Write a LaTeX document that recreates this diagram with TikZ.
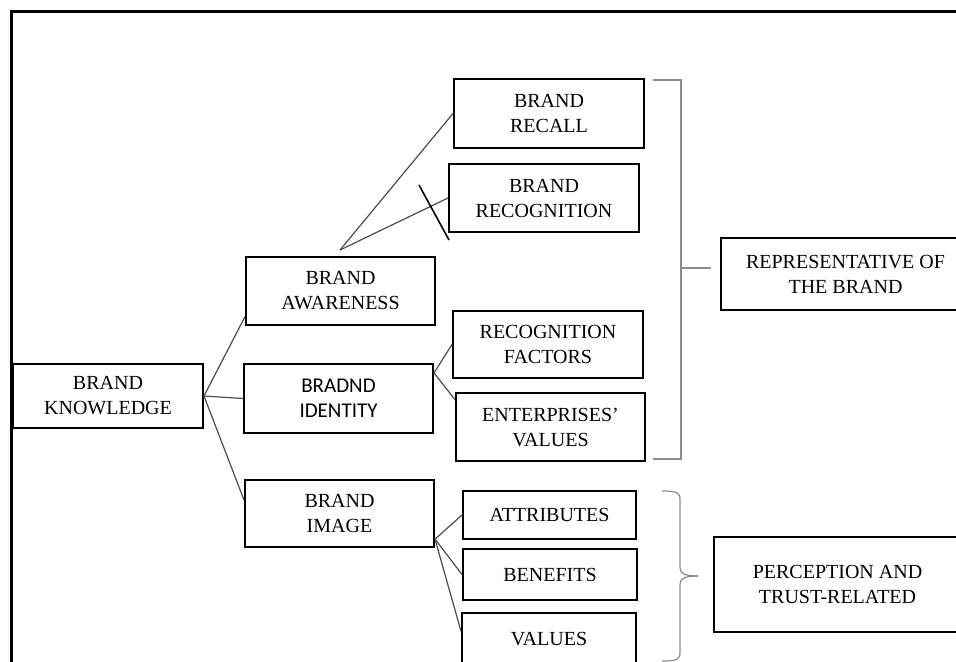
\documentclass[tikz,border=0pt]{standalone}
\usepackage{fontspec}
\setmainfont{Liberation Serif}
\newfontfamily\calibri{Carlito}

\begin{document}
\begin{tikzpicture}[x=0.5pt,y=-0.5pt]
	\tikzstyle{every node}+=[inner sep=0pt]
	\tikzstyle{box}=[draw=black, line width=1pt, align=center, font=\fontsize{10}{12.5}\selectfont]
	\tikzstyle{link}=[draw=black!70, line width=0.6pt]
	\tikzstyle{brk}=[draw=black!45, line width=0.6pt]
	\useasboundingbox (0,0) rectangle (956,662);
	\clip (0,0) rectangle (956,662);
	% frame
	\draw [line width=1.5pt] (11.5,700) -- (11.5,12) -- (1000,12);
	% boxes
	\node [box, minimum width=95pt, minimum height=32pt] (know) at (108,396) {BRAND\\KNOWLEDGE};
	\node [box, minimum width=94.5pt, minimum height=34pt] (aware) at (340.5,291) {BRAND\\AWARENESS};
	\node [box, minimum width=94.5pt, minimum height=34.5pt, font=\calibri\fontsize{10.5}{12.5}\selectfont] (ident) at (338.5,398.5) {BRADND\\IDENTITY};
	\node [box, minimum width=94.5pt, minimum height=33.5pt] (image) at (339.5,513.5) {BRAND\\IMAGE};
	\node [box, minimum width=95pt, minimum height=34.5pt] (recall) at (549,113.5) {BRAND\\RECALL};
	\node [box, minimum width=95pt, minimum height=34pt] (recog) at (544,198) {BRAND\\RECOGNITION};
	\node [box, minimum width=95pt, minimum height=33.5pt] (factors) at (548,344.5) {RECOGNITION\\FACTORS};
	\node [box, minimum width=94.5pt, minimum height=34pt] (entval) at (550.5,427) {ENTERPRISES’\\VALUES};
	\node [box, minimum width=86.5pt, minimum height=24pt] (attr) at (549.5,515) {ATTRIBUTES};
	\node [box, minimum width=87pt, minimum height=25.5pt] (benef) at (550,574.5) {BENEFITS};
	\node [box, minimum width=87pt, minimum height=26pt] (vals) at (549,639) {VALUES};
	\node [box, line width=0.8pt, minimum width=124.5pt, minimum height=36pt] (rep) at (845.5,274) {REPRESENTATIVE OF\\THE BRAND};
	\node [box, line width=0.8pt, minimum width=123.5pt, minimum height=47.5pt] (perc) at (837.5,584.5) {PERCEPTION AND\\TRUST-RELATED};
	% links
	\coordinate (awtop) at (340,250);
	\draw [link] (know.east) -- (aware.195);
	\draw [link] (know.east) -- (ident.west);
	\draw [link] (know.east) -- (image.172);
	\draw [link] (awtop) -- (recall.west);
	\draw [link] (awtop) -- (recog.west);
	\draw [line width=0.8pt] (419,185) -- (449,240);
	\draw [link] (ident.15) -- (factors.west);
	\draw [link] (ident.15) -- (entval.164);
	\draw [link] (image.-15) -- (attr.west);
	\draw [link] (image.-15) -- (benef.west);
	\draw [link] (image.-15) -- (vals.175);
	% brackets
	\draw [brk] (653,80) -- (681,80) -- (681,459) -- (653,459);
	\draw [brk] (681,268) -- (711,268);
	\draw [brk] (662,491) .. controls (678,491) and (680,493) .. (680,500) -- (680,568) .. controls (680,574) and (686,576) .. (698,576);
	\draw [brk] (698,576) .. controls (686,576) and (680,578) .. (680,584) -- (680,652) .. controls (680,659) and (678,661) .. (662,661);
\end{tikzpicture}
\end{document}
